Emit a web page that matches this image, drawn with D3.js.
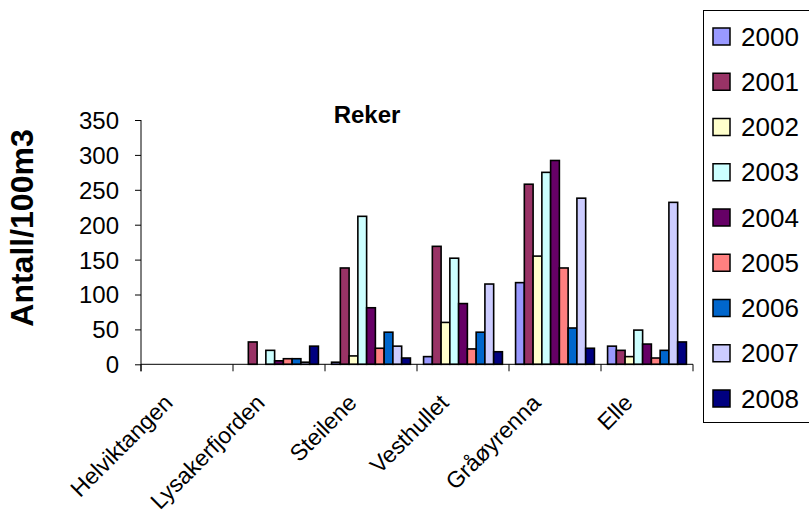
<!DOCTYPE html>
<html>
<head>
<meta charset="utf-8">
<script src="https://cdn.jsdelivr.net/npm/d3@7"></script>
<style>
  html, body { margin: 0; padding: 0; background: #fff; }
  svg { display: block; font-family: "Liberation Sans", Arial, sans-serif; }
</style>
</head>
<body>
<svg id="chart" width="809" height="519"></svg>
<script>
const categories = ["Helviktangen", "Lysakerfjorden", "Steilene", "Vesthullet", "Gråøyrenna", "Elle"];
const years = ["2000", "2001", "2002", "2003", "2004", "2005", "2006", "2007", "2008"];
const colors = ["#9999FF", "#993366", "#FFFFCC", "#CCFFFF", "#660066", "#FF8080", "#0066CC", "#CCCCFF", "#000080"];
// values per year, one entry per category
const v2000 = [0, 0, 3, 11, 117, 26];
const v2001 = [0, 32, 138, 169, 258, 20];
const v2002 = [0, 0, 12, 60, 155, 11];
const v2003 = [0, 20, 212, 152, 275, 49];
const v2004 = [0, 5, 81, 87, 292, 29];
const v2005 = [0, 8, 23, 22, 138, 9];
const v2006 = [0, 8, 46, 46, 52, 20];
const v2007 = [0, 3, 26, 115, 238, 232];
const v2008 = [0, 26, 9, 18, 23, 32];
const yTicks = [0, 50, 100, 150, 200, 250, 300, 350];
const title = "Reker";
const yTitle = "Antall/100m3";

const seriesValues = [v2000, v2001, v2002, v2003, v2004, v2005, v2006, v2007, v2008];

const svg = d3.select("#chart");
const plotLeft = 141, plotRight = 693, plotTop = 120, plotBottom = 364.3;

const x0 = d3.scaleBand().domain(categories).range([plotLeft, plotRight]).padding(0);
const x1 = d3.scaleBand().domain(years).range([0, x0.bandwidth()]).paddingInner(0).paddingOuter(0.75);
const y = d3.scaleLinear().domain([0, 350]).range([plotBottom, plotTop]);

// Bars
const groups = svg.append("g").selectAll("g")
  .data(categories)
  .join("g")
  .attr("transform", d => `translate(${x0(d)},0)`);

groups.selectAll("rect")
  .data((c, ci) => years.map((yr, yi) => ({ yr, yi, v: seriesValues[yi][ci] })).filter(d => d.v > 0))
  .join("rect")
  .attr("x", d => x1(d.yr))
  .attr("y", d => y(d.v))
  .attr("width", x1.bandwidth())
  .attr("height", d => y(0) - y(d.v))
  .attr("fill", d => colors[d.yi])
  .attr("stroke", "#000")
  .attr("stroke-width", 1.6);

// Y axis
const yAxis = d3.axisLeft(y).tickValues(yTicks).tickSize(6).tickPadding(16).tickSizeOuter(0);
const gy = svg.append("g").attr("transform", `translate(${plotLeft},0)`).call(yAxis);
gy.select(".domain").attr("stroke", "#000").attr("d", `M0,${plotTop}V${plotBottom + 7}`);
gy.selectAll(".tick line").attr("stroke", "#000");
gy.selectAll(".tick text")
  .attr("fill", "#000")
  .style("font-size", "24px")
  .style("font-family", "'Liberation Sans', Arial, sans-serif")
  .attr("dy", "0.35em");

// X axis with ticks at category boundaries
const gx = svg.append("g").attr("transform", `translate(0,${plotBottom})`);
gx.append("line").attr("x1", plotLeft).attr("x2", plotRight).attr("y1", 0).attr("y2", 0).attr("stroke", "#000");
const boundaries = categories.map(c => x0(c)).concat([x0(categories[categories.length - 1]) + x0.bandwidth()]);
gx.selectAll("line.tk").data(boundaries).join("line")
  .attr("class", "tk")
  .attr("x1", d => d).attr("x2", d => d)
  .attr("y1", 0).attr("y2", 7)
  .attr("stroke", "#000");

gx.selectAll("text.cat").data(categories).join("text")
  .attr("class", "cat")
  .attr("transform", d => `translate(${x0(d) + x0.bandwidth() / 2 - 13},${40}) rotate(-45)`)
  .attr("text-anchor", "end")
  .style("font-size", "23px")
  .attr("fill", "#000")
  .text(d => d);

// Title
svg.append("text")
  .attr("x", 367).attr("y", 123)
  .attr("text-anchor", "middle")
  .style("font-size", "24px").style("font-weight", "bold")
  .text(title);

// Y title
svg.append("text")
  .attr("transform", `translate(33,228) rotate(-90)`)
  .attr("text-anchor", "middle")
  .style("font-size", "32px").style("font-weight", "bold")
  .text(yTitle);

// Legend
const legend = svg.append("g");
legend.append("rect")
  .attr("x", 703.5).attr("y", 10.5)
  .attr("width", 140).attr("height", 412)
  .attr("fill", "#fff").attr("stroke", "#000").attr("stroke-width", 1);
const li = legend.selectAll("g.item").data(years).join("g")
  .attr("class", "item")
  .attr("transform", (d, i) => `translate(0,${36.5 + i * 45.25})`);
li.append("rect")
  .attr("x", 713).attr("y", -8.5).attr("width", 17).attr("height", 17)
  .attr("fill", (d, i) => colors[i]).attr("stroke", "#000").attr("stroke-width", 1.5);
li.append("text")
  .attr("x", 741).attr("y", 0).attr("dy", "0.35em")
  .style("font-size", "26px")
  .text(d => d);
</script>
</body>
</html>
